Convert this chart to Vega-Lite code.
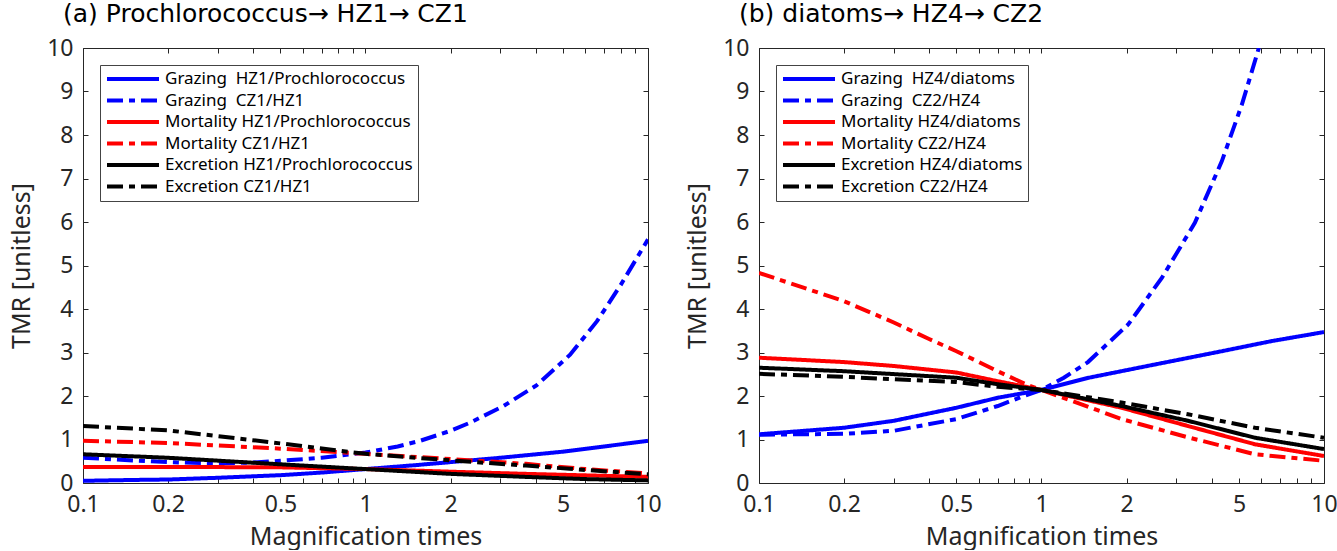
{
  "$schema": "https://vega.github.io/schema/vega-lite/v6.json",
  "padding": {"left": 9, "top": 1, "right": 0, "bottom": 0},
  "spacing": 23,
  "datasets": {
    "a": [
      {"s": "Grazing\u00a0 HZ1/Prochlorococcus", "x": 0.1, "y": 0.05},
      {"s": "Grazing\u00a0 HZ1/Prochlorococcus", "x": 0.15, "y": 0.07},
      {"s": "Grazing\u00a0 HZ1/Prochlorococcus", "x": 0.2, "y": 0.08},
      {"s": "Grazing\u00a0 HZ1/Prochlorococcus", "x": 0.3, "y": 0.12},
      {"s": "Grazing\u00a0 HZ1/Prochlorococcus", "x": 0.5, "y": 0.18},
      {"s": "Grazing\u00a0 HZ1/Prochlorococcus", "x": 0.7, "y": 0.24},
      {"s": "Grazing\u00a0 HZ1/Prochlorococcus", "x": 1, "y": 0.32},
      {"s": "Grazing\u00a0 HZ1/Prochlorococcus", "x": 1.5, "y": 0.41},
      {"s": "Grazing\u00a0 HZ1/Prochlorococcus", "x": 2, "y": 0.48},
      {"s": "Grazing\u00a0 HZ1/Prochlorococcus", "x": 3, "y": 0.58},
      {"s": "Grazing\u00a0 HZ1/Prochlorococcus", "x": 5, "y": 0.72},
      {"s": "Grazing\u00a0 HZ1/Prochlorococcus", "x": 7, "y": 0.84},
      {"s": "Grazing\u00a0 HZ1/Prochlorococcus", "x": 10, "y": 0.97},
      {"s": "Grazing\u00a0 CZ1/HZ1", "x": 0.1, "y": 0.58},
      {"s": "Grazing\u00a0 CZ1/HZ1", "x": 0.15, "y": 0.52},
      {"s": "Grazing\u00a0 CZ1/HZ1", "x": 0.2, "y": 0.48},
      {"s": "Grazing\u00a0 CZ1/HZ1", "x": 0.3, "y": 0.45},
      {"s": "Grazing\u00a0 CZ1/HZ1", "x": 0.4, "y": 0.47},
      {"s": "Grazing\u00a0 CZ1/HZ1", "x": 0.5, "y": 0.51},
      {"s": "Grazing\u00a0 CZ1/HZ1", "x": 0.7, "y": 0.58},
      {"s": "Grazing\u00a0 CZ1/HZ1", "x": 1, "y": 0.7},
      {"s": "Grazing\u00a0 CZ1/HZ1", "x": 1.3, "y": 0.84},
      {"s": "Grazing\u00a0 CZ1/HZ1", "x": 1.56, "y": 0.97},
      {"s": "Grazing\u00a0 CZ1/HZ1", "x": 2, "y": 1.2},
      {"s": "Grazing\u00a0 CZ1/HZ1", "x": 2.35, "y": 1.39},
      {"s": "Grazing\u00a0 CZ1/HZ1", "x": 3.08, "y": 1.77},
      {"s": "Grazing\u00a0 CZ1/HZ1", "x": 4.04, "y": 2.25},
      {"s": "Grazing\u00a0 CZ1/HZ1", "x": 5.3, "y": 2.95},
      {"s": "Grazing\u00a0 CZ1/HZ1", "x": 6.6, "y": 3.72},
      {"s": "Grazing\u00a0 CZ1/HZ1", "x": 8, "y": 4.55},
      {"s": "Grazing\u00a0 CZ1/HZ1", "x": 10, "y": 5.6},
      {"s": "Mortality HZ1/Prochlorococcus", "x": 0.1, "y": 0.37},
      {"s": "Mortality HZ1/Prochlorococcus", "x": 0.2, "y": 0.37},
      {"s": "Mortality HZ1/Prochlorococcus", "x": 0.5, "y": 0.36},
      {"s": "Mortality HZ1/Prochlorococcus", "x": 1, "y": 0.32},
      {"s": "Mortality HZ1/Prochlorococcus", "x": 2, "y": 0.26},
      {"s": "Mortality HZ1/Prochlorococcus", "x": 3.7, "y": 0.21},
      {"s": "Mortality HZ1/Prochlorococcus", "x": 10, "y": 0.14},
      {"s": "Mortality CZ1/HZ1", "x": 0.1, "y": 0.97},
      {"s": "Mortality CZ1/HZ1", "x": 0.2, "y": 0.92},
      {"s": "Mortality CZ1/HZ1", "x": 0.5, "y": 0.79},
      {"s": "Mortality CZ1/HZ1", "x": 1, "y": 0.67},
      {"s": "Mortality CZ1/HZ1", "x": 2, "y": 0.55},
      {"s": "Mortality CZ1/HZ1", "x": 3.7, "y": 0.44},
      {"s": "Mortality CZ1/HZ1", "x": 6, "y": 0.32},
      {"s": "Mortality CZ1/HZ1", "x": 10, "y": 0.22},
      {"s": "Excretion HZ1/Prochlorococcus", "x": 0.1, "y": 0.66},
      {"s": "Excretion HZ1/Prochlorococcus", "x": 0.2, "y": 0.58},
      {"s": "Excretion HZ1/Prochlorococcus", "x": 0.5, "y": 0.43},
      {"s": "Excretion HZ1/Prochlorococcus", "x": 1, "y": 0.32},
      {"s": "Excretion HZ1/Prochlorococcus", "x": 2, "y": 0.21},
      {"s": "Excretion HZ1/Prochlorococcus", "x": 3.7, "y": 0.14},
      {"s": "Excretion HZ1/Prochlorococcus", "x": 6, "y": 0.09},
      {"s": "Excretion HZ1/Prochlorococcus", "x": 10, "y": 0.06},
      {"s": "Excretion CZ1/HZ1", "x": 0.1, "y": 1.31},
      {"s": "Excretion CZ1/HZ1", "x": 0.2, "y": 1.21},
      {"s": "Excretion CZ1/HZ1", "x": 0.5, "y": 0.91},
      {"s": "Excretion CZ1/HZ1", "x": 1, "y": 0.67},
      {"s": "Excretion CZ1/HZ1", "x": 2, "y": 0.52},
      {"s": "Excretion CZ1/HZ1", "x": 3.7, "y": 0.4},
      {"s": "Excretion CZ1/HZ1", "x": 6, "y": 0.3},
      {"s": "Excretion CZ1/HZ1", "x": 10, "y": 0.2}
    ],
    "b": [
      {"s": "Grazing\u00a0 HZ4/diatoms", "x": 0.1, "y": 1.12},
      {"s": "Grazing\u00a0 HZ4/diatoms", "x": 0.2, "y": 1.27},
      {"s": "Grazing\u00a0 HZ4/diatoms", "x": 0.3, "y": 1.43},
      {"s": "Grazing\u00a0 HZ4/diatoms", "x": 0.5, "y": 1.73},
      {"s": "Grazing\u00a0 HZ4/diatoms", "x": 0.7, "y": 1.96},
      {"s": "Grazing\u00a0 HZ4/diatoms", "x": 1, "y": 2.14},
      {"s": "Grazing\u00a0 HZ4/diatoms", "x": 1.47, "y": 2.42},
      {"s": "Grazing\u00a0 HZ4/diatoms", "x": 2.5, "y": 2.72},
      {"s": "Grazing\u00a0 HZ4/diatoms", "x": 4.35, "y": 3.03},
      {"s": "Grazing\u00a0 HZ4/diatoms", "x": 6.5, "y": 3.26},
      {"s": "Grazing\u00a0 HZ4/diatoms", "x": 10, "y": 3.47},
      {"s": "Grazing\u00a0 CZ2/HZ4", "x": 0.1, "y": 1.11},
      {"s": "Grazing\u00a0 CZ2/HZ4", "x": 0.2, "y": 1.13},
      {"s": "Grazing\u00a0 CZ2/HZ4", "x": 0.3, "y": 1.2},
      {"s": "Grazing\u00a0 CZ2/HZ4", "x": 0.5, "y": 1.47},
      {"s": "Grazing\u00a0 CZ2/HZ4", "x": 0.7, "y": 1.77},
      {"s": "Grazing\u00a0 CZ2/HZ4", "x": 0.85, "y": 1.98},
      {"s": "Grazing\u00a0 CZ2/HZ4", "x": 1, "y": 2.14},
      {"s": "Grazing\u00a0 CZ2/HZ4", "x": 1.2, "y": 2.42},
      {"s": "Grazing\u00a0 CZ2/HZ4", "x": 1.46, "y": 2.78},
      {"s": "Grazing\u00a0 CZ2/HZ4", "x": 2.03, "y": 3.65},
      {"s": "Grazing\u00a0 CZ2/HZ4", "x": 2.67, "y": 4.72},
      {"s": "Grazing\u00a0 CZ2/HZ4", "x": 3.49, "y": 5.98},
      {"s": "Grazing\u00a0 CZ2/HZ4", "x": 4.35, "y": 7.4},
      {"s": "Grazing\u00a0 CZ2/HZ4", "x": 5.12, "y": 8.7},
      {"s": "Grazing\u00a0 CZ2/HZ4", "x": 5.88, "y": 10},
      {"s": "Mortality HZ4/diatoms", "x": 0.1, "y": 2.88},
      {"s": "Mortality HZ4/diatoms", "x": 0.2, "y": 2.78},
      {"s": "Mortality HZ4/diatoms", "x": 0.3, "y": 2.69},
      {"s": "Mortality HZ4/diatoms", "x": 0.5, "y": 2.54},
      {"s": "Mortality HZ4/diatoms", "x": 0.7, "y": 2.34},
      {"s": "Mortality HZ4/diatoms", "x": 1, "y": 2.14},
      {"s": "Mortality HZ4/diatoms", "x": 1.92, "y": 1.73},
      {"s": "Mortality HZ4/diatoms", "x": 3.3, "y": 1.31},
      {"s": "Mortality HZ4/diatoms", "x": 5.7, "y": 0.89},
      {"s": "Mortality HZ4/diatoms", "x": 10, "y": 0.62},
      {"s": "Mortality CZ2/HZ4", "x": 0.1, "y": 4.83},
      {"s": "Mortality CZ2/HZ4", "x": 0.2, "y": 4.18},
      {"s": "Mortality CZ2/HZ4", "x": 0.3, "y": 3.69},
      {"s": "Mortality CZ2/HZ4", "x": 0.4, "y": 3.31},
      {"s": "Mortality CZ2/HZ4", "x": 0.5, "y": 3.03},
      {"s": "Mortality CZ2/HZ4", "x": 0.7, "y": 2.57},
      {"s": "Mortality CZ2/HZ4", "x": 0.9, "y": 2.24},
      {"s": "Mortality CZ2/HZ4", "x": 1, "y": 2.14},
      {"s": "Mortality CZ2/HZ4", "x": 1.28, "y": 1.89},
      {"s": "Mortality CZ2/HZ4", "x": 1.92, "y": 1.47},
      {"s": "Mortality CZ2/HZ4", "x": 3.3, "y": 1.05},
      {"s": "Mortality CZ2/HZ4", "x": 5.7, "y": 0.66},
      {"s": "Mortality CZ2/HZ4", "x": 10, "y": 0.51},
      {"s": "Excretion HZ4/diatoms", "x": 0.1, "y": 2.65},
      {"s": "Excretion HZ4/diatoms", "x": 0.2, "y": 2.57},
      {"s": "Excretion HZ4/diatoms", "x": 0.5, "y": 2.42},
      {"s": "Excretion HZ4/diatoms", "x": 0.7, "y": 2.27},
      {"s": "Excretion HZ4/diatoms", "x": 1, "y": 2.14},
      {"s": "Excretion HZ4/diatoms", "x": 1.92, "y": 1.77},
      {"s": "Excretion HZ4/diatoms", "x": 3.3, "y": 1.43},
      {"s": "Excretion HZ4/diatoms", "x": 5.7, "y": 1.04},
      {"s": "Excretion HZ4/diatoms", "x": 10, "y": 0.78},
      {"s": "Excretion CZ2/HZ4", "x": 0.1, "y": 2.51},
      {"s": "Excretion CZ2/HZ4", "x": 0.2, "y": 2.44},
      {"s": "Excretion CZ2/HZ4", "x": 0.5, "y": 2.32},
      {"s": "Excretion CZ2/HZ4", "x": 0.7, "y": 2.21},
      {"s": "Excretion CZ2/HZ4", "x": 1, "y": 2.14},
      {"s": "Excretion CZ2/HZ4", "x": 1.92, "y": 1.85},
      {"s": "Excretion CZ2/HZ4", "x": 3.3, "y": 1.58},
      {"s": "Excretion CZ2/HZ4", "x": 5.7, "y": 1.27},
      {"s": "Excretion CZ2/HZ4", "x": 10, "y": 1.04}
    ]
  },
  "hconcat": [
    {
      "width": 565,
      "height": 435,
      "data": {"name": "a"},
      "title": {"text": "(a) Prochlorococcus→ HZ1→ CZ1"},
      "layer": [
        {
          "mark": {"type": "line", "strokeWidth": 4, "clip": true},
          "encoding": {
            "x": {"field": "x", "type": "quantitative", "scale": {"type": "log", "domain": [0.1, 10]},
              "axis": {"orient": "bottom", "title": "Magnification times", "values": [0.1,0.2,0.3,0.4,0.5,0.6,0.7,0.8,0.9,1,2,3,4,5,6,7,8,9,10],
                "labelExpr": "indexof([0.1,0.2,0.5,1,2,5,10], datum.value) >= 0 ? '' + datum.value : ''"}},
            "y": {"field": "y", "type": "quantitative", "scale": {"domain": [0, 10]},
              "axis": {"orient": "left", "title": "TMR [unitless]", "values": [0,1,2,3,4,5,6,7,8,9,10]}},
            "color": {"field": "s", "type": "nominal",
              "scale": {"domain": ["Grazing\u00a0 HZ1/Prochlorococcus", "Grazing\u00a0 CZ1/HZ1", "Mortality HZ1/Prochlorococcus", "Mortality CZ1/HZ1", "Excretion HZ1/Prochlorococcus", "Excretion CZ1/HZ1"],
                "range": ["#0000ff", "#0000ff", "#ff0000", "#ff0000", "#000000", "#000000"]},
              "legend": {"title": null}},
            "strokeDash": {"field": "s", "type": "nominal",
              "scale": {"domain": ["Grazing\u00a0 HZ1/Prochlorococcus", "Grazing\u00a0 CZ1/HZ1", "Mortality HZ1/Prochlorococcus", "Mortality CZ1/HZ1", "Excretion HZ1/Prochlorococcus", "Excretion CZ1/HZ1"],
                "range": [[1, 0], [16, 6, 6, 6], [1, 0], [16, 6, 6, 6], [1, 0], [16, 6, 6, 6]]},
              "legend": {"title": null}}
          }
        },
        {
          "mark": {"type": "point", "opacity": 0, "size": 0},
          "encoding": {
            "x": {"field": "x", "type": "quantitative", "axis": {"orient": "top", "title": null, "labels": false, "values": [0.1,0.2,0.3,0.4,0.5,0.6,0.7,0.8,0.9,1,2,3,4,5,6,7,8,9,10]}},
            "y": {"field": "y", "type": "quantitative", "axis": {"orient": "right", "title": null, "labels": false, "values": [0,1,2,3,4,5,6,7,8,9,10]}}
          }
        }
      ],
      "resolve": {"axis": {"x": "independent", "y": "independent"}}
    },
    {
      "width": 565,
      "height": 435,
      "data": {"name": "b"},
      "title": {"text": "(b) diatoms→ HZ4→ CZ2"},
      "layer": [
        {
          "mark": {"type": "line", "strokeWidth": 4, "clip": true},
          "encoding": {
            "x": {"field": "x", "type": "quantitative", "scale": {"type": "log", "domain": [0.1, 10]},
              "axis": {"orient": "bottom", "title": "Magnification times", "values": [0.1,0.2,0.3,0.4,0.5,0.6,0.7,0.8,0.9,1,2,3,4,5,6,7,8,9,10],
                "labelExpr": "indexof([0.1,0.2,0.5,1,2,5,10], datum.value) >= 0 ? '' + datum.value : ''"}},
            "y": {"field": "y", "type": "quantitative", "scale": {"domain": [0, 10]},
              "axis": {"orient": "left", "title": "TMR [unitless]", "values": [0,1,2,3,4,5,6,7,8,9,10]}},
            "color": {"field": "s", "type": "nominal",
              "scale": {"domain": ["Grazing\u00a0 HZ4/diatoms", "Grazing\u00a0 CZ2/HZ4", "Mortality HZ4/diatoms", "Mortality CZ2/HZ4", "Excretion HZ4/diatoms", "Excretion CZ2/HZ4"],
                "range": ["#0000ff", "#0000ff", "#ff0000", "#ff0000", "#000000", "#000000"]},
              "legend": {"title": null}},
            "strokeDash": {"field": "s", "type": "nominal",
              "scale": {"domain": ["Grazing\u00a0 HZ4/diatoms", "Grazing\u00a0 CZ2/HZ4", "Mortality HZ4/diatoms", "Mortality CZ2/HZ4", "Excretion HZ4/diatoms", "Excretion CZ2/HZ4"],
                "range": [[1, 0], [16, 6, 6, 6], [1, 0], [16, 6, 6, 6], [1, 0], [16, 6, 6, 6]]},
              "legend": {"title": null}}
          }
        },
        {
          "mark": {"type": "point", "opacity": 0, "size": 0},
          "encoding": {
            "x": {"field": "x", "type": "quantitative", "axis": {"orient": "top", "title": null, "labels": false, "values": [0.1,0.2,0.3,0.4,0.5,0.6,0.7,0.8,0.9,1,2,3,4,5,6,7,8,9,10]}},
            "y": {"field": "y", "type": "quantitative", "axis": {"orient": "right", "title": null, "labels": false, "values": [0,1,2,3,4,5,6,7,8,9,10]}}
          }
        }
      ],
      "resolve": {"axis": {"x": "independent", "y": "independent"}}
    }
  ],
  "resolve": {"scale": {"color": "independent", "strokeDash": "independent"}},
  "config": {
    "font": "Noto Sans, sans-serif",
    "view": {"stroke": "#262626", "strokeWidth": 1},
    "axis": {
      "grid": false, "domain": false,
      "tickColor": "#262626", "tickSize": -5, "tickWidth": 1,
      "labelFontSize": 23, "labelColor": "#262626", "labelPadding": 15,
      "labelFlush": false, "labelOverlap": false,
      "titleFontSize": 25, "titleFontWeight": "normal", "titleColor": "#262626"
    },
    "axisX": {"titlePadding": 8},
    "axisY": {"titlePadding": 12},
    "legend": {
      "orient": "top-left", "offset": 17,
      "strokeColor": "#444444", "fillColor": "#ffffff", "padding": 5,
      "labelFontSize": 17, "labelColor": "#000000", "labelOffset": 4, "labelLimit": 400,
      "symbolType": "stroke", "symbolSize": 2704, "symbolStrokeWidth": 4,
      "clipHeight": 18, "rowPadding": 3.5
    },
    "title": {"anchor": "start", "frame": "group", "font": "DejaVu Sans", "fontSize": 25, "fontWeight": "normal", "color": "#000000", "dx": -20, "offset": 10}
  }
}
